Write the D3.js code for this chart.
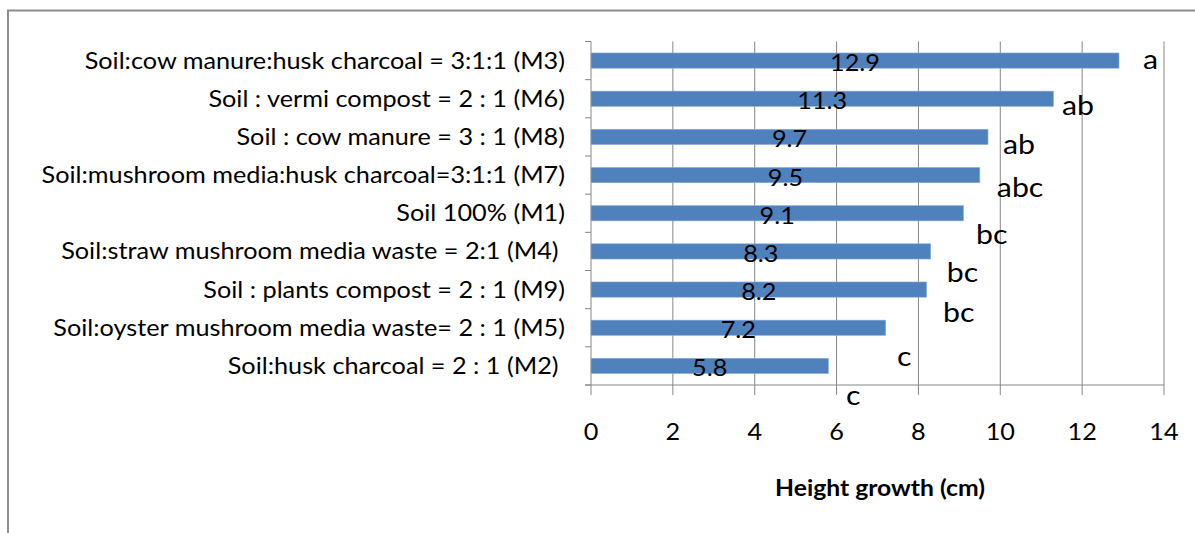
<!DOCTYPE html>
<html><head><meta charset="utf-8">
<script src="https://cdn.jsdelivr.net/npm/d3@7/dist/d3.min.js"></script>
<style>
body{margin:0;background:#fff;overflow:hidden}
text{font-family:Lato,'Open Sans',sans-serif;fill:#000;white-space:pre}
</style>
</head><body>
<svg id="chart" width="1195" height="533"></svg>
<script>
// ---- data ----
const categories = [
  "Soil:cow manure:husk charcoal = 3:1:1 (M3)",
  "Soil : vermi compost = 2 : 1 (M6)",
  "Soil : cow manure = 3 : 1 (M8)",
  "Soil:mushroom media:husk charcoal=3:1:1 (M7)",
  "Soil 100% (M1)",
  "Soil:straw mushroom media waste = 2:1 (M4) ",
  "Soil : plants compost = 2 : 1 (M9)",
  "Soil:oyster mushroom media waste= 2 : 1 (M5)",
  "Soil:husk charcoal = 2 : 1 (M2) "
];
const values = [12.9, 11.3, 9.7, 9.5, 9.1, 8.3, 8.2, 7.2, 5.8];
const letters = ["a", "ab", "ab", "abc", "bc", "bc", "bc", "c", "c"];
const xTicks = [0, 2, 4, 6, 8, 10, 12, 14];
const xTitle = "Height growth (cm)";

// ---- layout ----
const svg = d3.select("#chart");
const W = 1195, H = 533;
const plot = {left: 591, right: 1164, top: 41.5, bottom: 385};
const barColor = "#4F81BD", gridColor = "#878787";
const catFont = 22.5, tickFont = 22.5, letterFont = 27, titleFont = 22;
// letter label placement relative to bar end / band centre (manually placed in original)
const letterDx = [24, 8.5, 15, 17, 12.5, 16, 16.4, 11.3, 17.6];
const letterDy = [8.5, 16.2, 17.4, 22.1, 30.3, 30.3, 32.5, 38.1, 39.1];

const x = d3.scaleLinear().domain([0, 14]).range([plot.left, plot.right]);
const y = d3.scaleBand().domain(categories).range([plot.top, plot.bottom])
  .paddingInner(0.6).paddingOuter(0.3);

// horizontal stretch factor for text (fit original label widths)
const tmp = svg.append("text").attr("font-size", catFont).text(categories[7]);
const S = 512 / tmp.node().getComputedTextLength();
tmp.remove();
const tr = (px, py) => `translate(${px},${py}) scale(${S},1)`;

// outer frame
svg.append("rect").attr("x", 8).attr("y", 10.5).attr("width", W + 20).attr("height", H + 20)
  .attr("fill", "none").attr("stroke", "#8c8c8c").attr("stroke-width", 2);

// gridlines
svg.append("g").selectAll("line").data(xTicks).join("line")
  .attr("x1", d => x(d)).attr("x2", d => x(d))
  .attr("y1", plot.top).attr("y2", plot.bottom)
  .attr("stroke", gridColor).attr("stroke-width", 1);

// x axis line + ticks
svg.append("line").attr("x1", plot.left - 6).attr("x2", plot.right)
  .attr("y1", plot.bottom).attr("y2", plot.bottom).attr("stroke", gridColor);
svg.append("g").selectAll("line").data(xTicks).join("line")
  .attr("x1", d => x(d)).attr("x2", d => x(d))
  .attr("y1", plot.bottom).attr("y2", plot.bottom + 10)
  .attr("stroke", gridColor);
// y ticks at band boundaries
const step = y.step();
const yBounds = d3.range(categories.length + 1).map(i => plot.top + i * step);
svg.append("g").selectAll("line").data(yBounds).join("line")
  .attr("x1", plot.left - 6).attr("x2", plot.left)
  .attr("y1", d => d).attr("y2", d => d).attr("stroke", gridColor);

// bars
svg.append("g").selectAll("rect").data(values).join("rect")
  .attr("x", x(0))
  .attr("y", (d, i) => y(categories[i]))
  .attr("width", d => x(d) - x(0))
  .attr("height", y.bandwidth())
  .attr("fill", barColor)
  .attr("stroke", "#8fb0d8").attr("stroke-width", 0.6);

const cy = i => y(categories[i]) + y.bandwidth() / 2;

// value labels
svg.append("g").selectAll("text").data(values).join("text")
  .attr("transform", (d, i) => tr(x(d / 2), cy(i) + 10.5))
  .attr("text-anchor", "middle").attr("font-size", tickFont)
  .attr("fill", "#1a1a1a")
  .text(d => d.toFixed(1));

// letter labels
svg.append("g").selectAll("text").data(letters).join("text")
  .attr("transform", (d, i) => tr(x(values[i]) + letterDx[i], cy(i) + letterDy[i]))
  .attr("text-anchor", "start").attr("font-size", letterFont)
  .text(d => d);

// category labels
svg.append("g").selectAll("text").data(categories).join("text")
  .attr("transform", (d, i) => tr(565, cy(i) + 8))
  .attr("text-anchor", "end").attr("font-size", catFont)
  .text(d => d);

// x tick labels
svg.append("g").selectAll("text").data(xTicks).join("text")
  .attr("transform", d => tr(x(d), 440))
  .attr("text-anchor", "middle").attr("font-size", tickFont)
  .text(d => d);

// axis title
svg.append("text").attr("transform", tr(880, 496))
  .attr("text-anchor", "middle").attr("font-size", titleFont).attr("font-weight", "bold")
  .text(xTitle);
</script>
</body></html>
